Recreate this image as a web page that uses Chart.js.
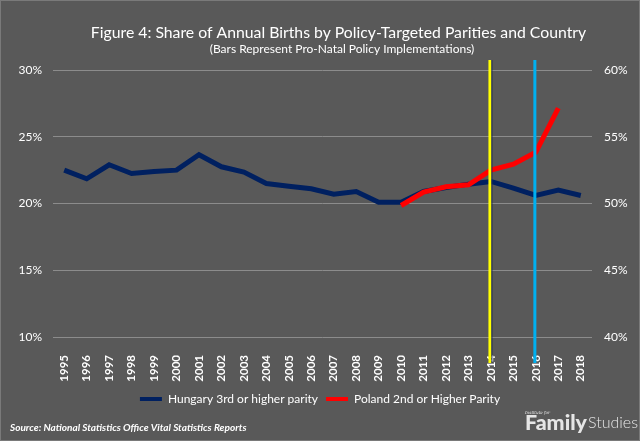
<!DOCTYPE html>
<html>
<head>
<meta charset="utf-8">
<script src="https://cdn.jsdelivr.net/npm/chart.js@4"></script>
<style>
  html, body { margin: 0; padding: 0; background: #595959; }
  #c { display: block; }
</style>
</head>
<body>
<canvas id="c" width="640" height="441"></canvas>
<script>
// ---- data ----
const years = ['1995','1996','1997','1998','1999','2000','2001','2002','2003','2004','2005','2006',
               '2007','2008','2009','2010','2011','2012','2013','2014','2015','2016','2017','2018'];
const hungary = [22.5, 21.85, 22.9, 22.25, 22.4, 22.5, 23.65, 22.75, 22.35, 21.5, 21.3, 21.1,
                 20.7, 20.9, 20.1, 20.1, 20.9, 21.2, 21.45, 21.65, 21.15, 20.6, 21.0, 20.6];
const poland = [null, null, null, null, null, null, null, null, null, null, null, null,
                null, null, null, 49.85, 50.85, 51.25, 51.4, 52.5, 52.95, 53.85, 57.15, null];
const leftTicks = [10, 15, 20, 25, 30];
const rightTicks = [40, 45, 50, 55, 60];
const policyYears = ['2014', '2016'];
const policyColors = ['#ffff00', '#00b0f0'];
const seriesNames = ['Hungary 3rd or higher parity', 'Poland 2nd or Higher Parity'];
const titleText = 'Figure 4: Share of Annual Births by Policy-Targeted Parities and Country';
const subtitleText = '(Bars Represent Pro-Natal Policy Implementations)';
const sourceText = 'Source: National Statistics Office Vital Statistics Reports';

const FAMILY = 'Lato, "Open Sans", sans-serif';
const TEXT = '#ffffff';

function fitSize(ctx, text, style, weight, family, targetW) {
  ctx.font = `${style} ${weight} 20px ${family}`;
  const w = ctx.measureText(text).width;
  return 20 * targetW / w;
}
function drawFitted(ctx, text, style, weight, family, targetW, x, y, align, color) {
  const s = fitSize(ctx, text, style, weight, family, targetW);
  ctx.font = `${style} ${weight} ${s}px ${family}`;
  ctx.fillStyle = color;
  ctx.textAlign = align;
  ctx.textBaseline = 'middle';
  ctx.fillText(text, x, y);
}

const decorPlugin = {
  id: 'decor',
  beforeDraw(chart) {
    const ctx = chart.ctx;
    ctx.save();
    ctx.fillStyle = '#595959';
    ctx.fillRect(0, 0, chart.width, chart.height);
    ctx.strokeStyle = '#7a7a7a';
    ctx.lineWidth = 1;
    ctx.strokeRect(0.5, 0.5, chart.width - 1, chart.height - 1);
    ctx.restore();
  },
  afterDraw(chart) {
    const ctx = chart.ctx;
    const x = chart.scales.x;
    const area = chart.chartArea;
    ctx.save();
    policyYears.forEach((yr, i) => {
      const px = x.getPixelForValue(years.indexOf(yr)) - 1;
      ctx.fillStyle = policyColors[i];
      ctx.fillRect(px - 1.5, area.top - 10, 3, area.bottom - area.top + 36);
      if (i === 0) {
        ctx.fillStyle = '#1f2d5c';
        ctx.fillRect(px + 1.5, area.top - 10, 1, area.bottom - area.top + 36);
      }
    });
    drawFitted(ctx, titleText, 'normal', 400, FAMILY, 496, 338.5, 33, 'center', TEXT);
    drawFitted(ctx, subtitleText, 'normal', 400, FAMILY, 265, 342, 49, 'center', TEXT);
    drawFitted(ctx, sourceText, 'italic', 700, FAMILY, 237, 10, 428, 'left', TEXT);
    // logo
    drawFitted(ctx, 'Institute for', 'italic', 400, '"DejaVu Serif", serif', 25, 525, 413, 'left', '#e6e6e6');
    drawFitted(ctx, 'Family', 'normal', 900, FAMILY, 62, 525, 423, 'left', '#e6e6e6');
    drawFitted(ctx, 'Studies', 'normal', 300, FAMILY, 50, 588, 423, 'left', '#e6e6e6');
    ctx.restore();
  }
};

new Chart(document.getElementById('c'), {
  type: 'line',
  data: {
    labels: years,
    datasets: [
      { label: seriesNames[0], data: hungary, yAxisID: 'y', borderColor: '#002060', backgroundColor: '#002060',
        borderWidth: 5, pointRadius: 0, tension: 0, order: 1 },
      { label: seriesNames[1], data: poland, yAxisID: 'y1', borderColor: '#ff0000', backgroundColor: '#ff0000',
        borderWidth: 5, pointRadius: 0, tension: 0, spanGaps: false, order: 0 }
    ]
  },
  options: {
    responsive: false,
    animation: false,
    layout: { padding: { top: 70, left: 0, right: 0, bottom: 26 } },
    plugins: {
      title: { display: false },
      tooltip: { enabled: false },
      legend: {
        position: 'bottom',
        labels: {
          color: TEXT,
          font: { family: FAMILY, size: 12 },
          boxWidth: 22,
          boxHeight: 4,
          padding: 8,
          sort: (a, b) => a.datasetIndex - b.datasetIndex,
          generateLabels: (chart) => Chart.defaults.plugins.legend.labels.generateLabels(chart)
            .map(l => Object.assign(l, { fillStyle: l.strokeStyle, lineWidth: 0 }))
        }
      }
    },
    scales: {
      x: {
        type: 'category',
        offset: true,
        grid: { display: false },
        border: { display: false },
        ticks: { color: TEXT, font: { family: FAMILY, size: 11.5, weight: 'bold' },
                 minRotation: 90, maxRotation: 90, autoSkip: false, padding: 10 },
        afterFit: (s) => { s.height = 48; }
      },
      y: {
        position: 'left',
        min: 10, max: 30,
        afterBuildTicks: (s) => { s.ticks = leftTicks.map(v => ({ value: v })); },
        ticks: { color: TEXT, font: { family: FAMILY, size: 12 }, padding: 11, callback: v => v + '%' },
        grid: { color: '#8c8c8c', lineWidth: 1, drawTicks: false },
        border: { display: false },
        afterFit: (s) => { s.width = 53; }
      },
      y1: {
        position: 'right',
        min: 40, max: 60,
        afterBuildTicks: (s) => { s.ticks = rightTicks.map(v => ({ value: v })); },
        ticks: { color: TEXT, font: { family: FAMILY, size: 12 }, padding: 12, callback: v => v + '%' },
        grid: { drawOnChartArea: false, drawTicks: false },
        border: { display: false },
        afterFit: (s) => { s.width = 48; }
      }
    }
  },
  plugins: [decorPlugin]
});
</script>
</body>
</html>
